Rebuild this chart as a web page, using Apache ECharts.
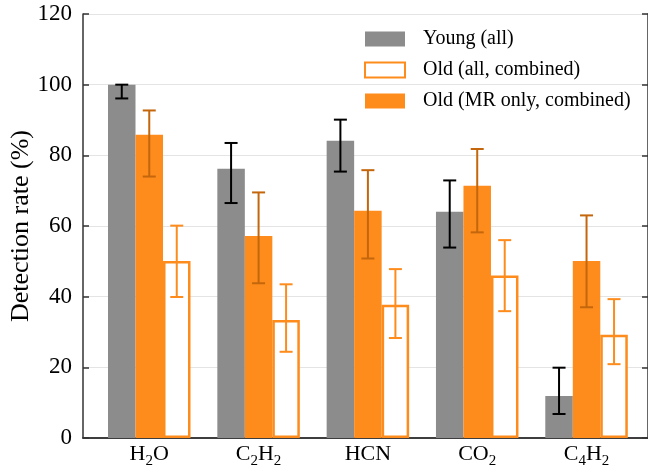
<!DOCTYPE html>
<html>
<head>
<meta charset="utf-8">
<script src="https://cdn.jsdelivr.net/npm/echarts@6/dist/echarts.min.js"></script>
<style>
  html, body { margin: 0; padding: 0; background: #fff; }
  #main { width: 648px; height: 468px; }
</style>
</head>
<body>
<div id="main"></div>
<script>
// categories (rich-text labels carry the subscripts)
const categories = ['H2O', 'C2H2', 'HCN', 'CO2', 'C4H2'];
const catLabels = ['H{s|2}O', 'C{s|2}H{s|2}', 'HCN', 'CO{s|2}', 'C{s|4}H{s|2}'];

// Young (all)
const young = [100, 76.2, 84.1, 64.0, 11.9];
const youngLo = [96.1, 66.5, 75.4, 53.9, 6.8];
const youngHi = [100, 83.5, 90.1, 72.9, 19.9];

// Old (MR only, combined)
const oldMR = [85.8, 57.2, 64.3, 71.4, 50.1];
const oldMRLo = [74.0, 43.8, 50.8, 58.2, 37.0];
const oldMRHi = [92.7, 69.5, 75.8, 81.8, 63.0];

// Old (all, combined)
const oldAll = [50.1, 33.4, 37.7, 46.0, 29.2];
const oldAllLo = [39.9, 24.4, 28.3, 35.9, 20.9];
const oldAllHi = [60.1, 43.5, 47.8, 56.0, 39.3];

const yTicks = [0, 20, 40, 60, 80, 100, 120];

const GREY = '#8c8c8c';
const ORANGE = '#fd8c1c';
const DARK_ORANGE = '#c4660c';
const FONT = "'Liberation Serif', 'DejaVu Serif', serif";
const BAR_W = 27.5;

function errData(lo, hi) {
  return categories.map((c, i) => [i, lo[i], hi[i]]);
}

function errorItem(offset, color) {
  return function (params, api) {
    const lo = api.coord([api.value(0), api.value(1)]);
    const hi = api.coord([api.value(0), api.value(2)]);
    const cx = lo[0] + offset;
    const half = 6.5;
    const style = { stroke: color, lineWidth: 2 };
    return {
      type: 'group',
      children: [
        { type: 'line', shape: { x1: cx, y1: lo[1], x2: cx, y2: hi[1] }, style: style },
        { type: 'line', shape: { x1: cx - half, y1: lo[1], x2: cx + half, y2: lo[1] }, style: style },
        { type: 'line', shape: { x1: cx - half, y1: hi[1], x2: cx + half, y2: hi[1] }, style: style }
      ]
    };
  };
}

const chart = echarts.init(document.getElementById('main'));

const option = {
  animation: false,
  backgroundColor: '#fff',
  textStyle: { fontFamily: FONT },
  grid: [
    // bars
    { left: 94.6, right: 6.8, top: 14, bottom: 30, outerBoundsMode: 'none', containLabel: false },
    // frame
    { left: 83, right: 0, top: 14, bottom: 30, outerBoundsMode: 'none', containLabel: false }
  ],
  legend: {
    orient: 'vertical',
    left: 359,
    top: 24,
    itemWidth: 40,
    itemHeight: 15,
    itemGap: 11,
    icon: 'rect',
    data: ['Young (all)', 'Old (all, combined)', 'Old (MR only, combined)'],
    textStyle: { fontFamily: FONT, fontSize: 20, color: '#000', padding: [0, 0, 0, 13] }
  },
  xAxis: [
    {
      type: 'category', gridIndex: 0, data: categories,
      axisLine: { show: false },
      axisTick: { inside: true, alignWithLabel: true, length: 6, lineStyle: { color: '#333', width: 1.5 } },
      axisLabel: {
        interval: 0, color: '#000', fontSize: 22, fontFamily: FONT, margin: 1, lineHeight: 30,
        formatter: (v, i) => catLabels[i],
        rich: {
          s: { fontSize: 15, fontFamily: FONT, color: '#000', verticalAlign: 'bottom', lineHeight: 17 }
        }
      }
    },
    {
      type: 'category', gridIndex: 0, data: categories, position: 'top',
      axisLine: { show: false },
      axisTick: { inside: true, alignWithLabel: true, length: 6, lineStyle: { color: '#333', width: 1.5 } },
      axisLabel: { show: false }
    },
    {
      type: 'value', gridIndex: 1, min: 0, max: 1, position: 'bottom',
      axisLine: { lineStyle: { color: '#333', width: 1.5 } },
      axisTick: { show: false }, axisLabel: { show: false }, splitLine: { show: false }
    },
    {
      type: 'value', gridIndex: 1, min: 0, max: 1, position: 'top',
      axisLine: { lineStyle: { color: '#333', width: 1.5 } },
      axisTick: { show: false }, axisLabel: { show: false }, splitLine: { show: false }
    }
  ],
  yAxis: [
    {
      type: 'value', gridIndex: 0, min: 0, max: 120, interval: 20, show: false
    },
    {
      type: 'value', gridIndex: 1, min: 0, max: 120, interval: 20, position: 'left',
      name: 'Detection rate (%)', nameLocation: 'middle', nameGap: 49, nameMoveOverlap: false,
      nameTextStyle: { fontFamily: FONT, fontSize: 26, color: '#000' },
      axisLine: { show: true, onZero: false, lineStyle: { color: '#333', width: 1.5 } },
      axisTick: { show: true, inside: true, length: 6, lineStyle: { color: '#333', width: 1.5 } },
      axisLabel: {
        color: '#000', fontSize: 23, fontFamily: FONT, margin: 11,
        formatter: v => (yTicks.indexOf(v) >= 0 ? String(v) : '')
      },
      splitLine: { show: true, lineStyle: { color: '#e4e4e4', width: 1.2 } }
    },
    {
      type: 'value', gridIndex: 1, min: 0, max: 120, interval: 20, position: 'right',
      axisLine: { show: true, onZero: false, lineStyle: { color: '#333', width: 1.5 } },
      axisTick: { show: true, inside: true, length: 6, lineStyle: { color: '#333', width: 1.5 } },
      axisLabel: { show: false },
      splitLine: { show: false }
    }
  ],
  series: [
    {
      name: 'Young (all)', type: 'bar', xAxisIndex: 0, yAxisIndex: 0,
      data: young, barWidth: BAR_W, barGap: '0%',
      itemStyle: { color: GREY }
    },
    {
      name: 'Old (MR only, combined)', type: 'bar', xAxisIndex: 0, yAxisIndex: 0,
      data: oldMR, barWidth: BAR_W, barGap: '0%',
      itemStyle: { color: ORANGE }
    },
    {
      name: 'Old (all, combined)', type: 'bar', xAxisIndex: 0, yAxisIndex: 0,
      data: oldAll, barWidth: BAR_W, barGap: '0%',
      itemStyle: { color: '#fff', borderColor: ORANGE, borderWidth: 2.5 }
    },
    {
      type: 'custom', xAxisIndex: 0, yAxisIndex: 0, z: 5,
      data: errData(youngLo, youngHi), encode: { x: 0, y: [1, 2] },
      renderItem: errorItem(-BAR_W, '#000')
    },
    {
      type: 'custom', xAxisIndex: 0, yAxisIndex: 0, z: 5,
      data: errData(oldMRLo, oldMRHi), encode: { x: 0, y: [1, 2] },
      renderItem: errorItem(0, DARK_ORANGE)
    },
    {
      type: 'custom', xAxisIndex: 0, yAxisIndex: 0, z: 5,
      data: errData(oldAllLo, oldAllHi), encode: { x: 0, y: [1, 2] },
      renderItem: errorItem(BAR_W, ORANGE)
    }
  ]
};

chart.setOption(option);
</script>
</body>
</html>
